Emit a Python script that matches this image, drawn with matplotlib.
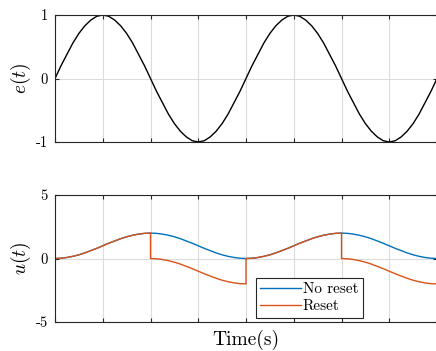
import numpy as np
import matplotlib
matplotlib.use("Agg")
import matplotlib.pyplot as plt

plt.rcParams['mathtext.fontset'] = 'cm'
plt.rcParams['font.family'] = ['cmr10', 'DejaVu Serif']
plt.rcParams['axes.unicode_minus'] = False

# samples every pi/16 s over two periods
step = np.pi / 16
e_vals = [0, .20, .38, .56, .71, .83, .92, .98, 1, .98, .92, .83, .71, .56, .38, .20, 0,
          -.20, -.38, -.56, -.71, -.83, -.92, -.98, -1, -.98, -.92, -.83, -.71, -.56, -.38, -.20, 0,
          .20, .38, .56, .71, .83, .92, .98, 1, .98, .92, .83, .71, .56, .38, .20, 0,
          -.20, -.38, -.56, -.71, -.83, -.92, -.98, -1, -.98, -.92, -.83, -.71, -.56, -.38, -.20, 0]
u_noreset = [0, .02, .08, .17, .29, .44, .62, .80, 1, 1.20, 1.38, 1.56, 1.71, 1.83, 1.92, 1.98, 2,
             1.98, 1.92, 1.83, 1.71, 1.56, 1.38, 1.20, 1, .80, .62, .44, .29, .17, .08, .02, 0,
             .02, .08, .17, .29, .44, .62, .80, 1, 1.20, 1.38, 1.56, 1.71, 1.83, 1.92, 1.98, 2,
             1.98, 1.92, 1.83, 1.71, 1.56, 1.38, 1.20, 1, .80, .62, .44, .29, .17, .08, .02, 0]
# reset series: sample index (repeated at each reset instant) and value
k_reset = list(range(0, 17)) + list(range(16, 33)) + list(range(32, 49)) + list(range(48, 65))
u_reset = [0, .02, .08, .17, .29, .44, .62, .80, 1, 1.20, 1.38, 1.56, 1.71, 1.83, 1.92, 1.98, 2,
           0, -.02, -.08, -.17, -.29, -.44, -.62, -.80, -1, -1.20, -1.38, -1.56, -1.71, -1.83, -1.92, -1.98, -2,
           0, .02, .08, .17, .29, .44, .62, .80, 1, 1.20, 1.38, 1.56, 1.71, 1.83, 1.92, 1.98, 2,
           0, -.02, -.08, -.17, -.29, -.44, -.62, -.80, -1, -1.20, -1.38, -1.56, -1.71, -1.83, -1.92, -1.98, -2]

t = np.arange(len(e_vals)) * step
t_reset = np.array(k_reset) * step

blue, orange = '#0072BD', '#D95319'
spine_c = '#262626'

fig = plt.figure(figsize=(4.36, 3.51), dpi=100)
ax1 = fig.add_axes([55/436, 1-142/351, 382/436, 127/351])
ax2 = fig.add_axes([55/436, 1-322/351, 382/436, 127/351])

ax1.plot(t, e_vals, color='black', lw=1.0)
ax2.plot(t, u_noreset, color=blue, lw=1.0, label='No reset')
ax2.plot(t_reset, u_reset, color=orange, lw=1.0, label='Reset')

xt = np.arange(0, 9) * np.pi / 2
for ax in (ax1, ax2):
    ax.set_xlim(0, 4*np.pi)
    ax.set_xticks(xt)
    ax.set_xticklabels([])
    ax.grid(True, color='#dcdcdc', lw=0.8)
    ax.set_axisbelow(True)
    ax.tick_params(direction='in', length=3, width=0.8, color=spine_c,
                   top=True, right=True, labelsize=10.5, pad=5)
    for s in ax.spines.values():
        s.set_color(spine_c)
        s.set_linewidth(0.8)

ax1.set_ylim(-1, 1)
ax1.set_yticks([-1, 0, 1])
ax1.set_yticklabels(['-1', '0', '1'])
ax1.set_ylabel(r'$e(t)$', fontsize=14, labelpad=2)

ax2.set_ylim(-5, 5)
ax2.set_yticks([-5, 0, 5])
ax2.set_yticklabels(['-5', '0', '5'])
ax2.set_ylabel(r'$u(t)$', fontsize=14, labelpad=2)
ax2.set_xlabel('Time(s)', fontsize=14, labelpad=1)

leg = ax2.legend(loc='lower left', bbox_to_anchor=(0.525, 0.035), fontsize=11,
                 fancybox=False, framealpha=1, edgecolor=spine_c, handlelength=2.7,
                 handletextpad=0.1, borderpad=0.3, labelspacing=0.2, borderaxespad=0)
leg.get_frame().set_linewidth(0.8)

fig.savefig('out.png', dpi=100)
